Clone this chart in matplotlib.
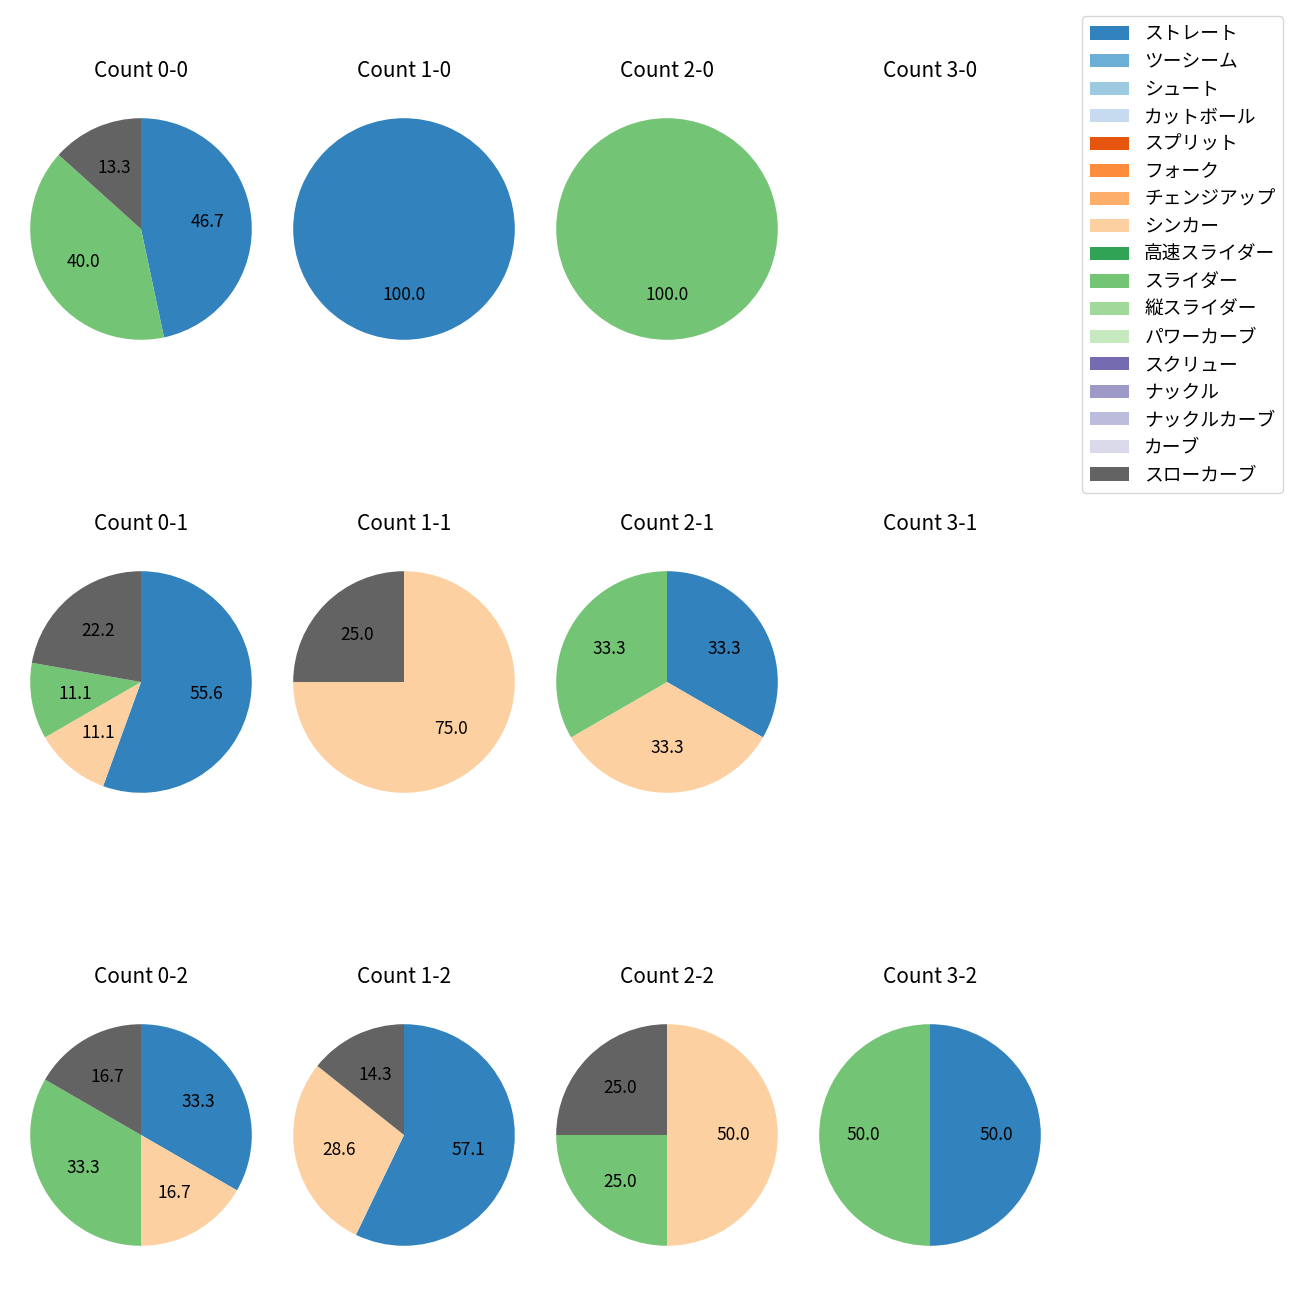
import matplotlib
matplotlib.use("Agg")
import matplotlib.pyplot as plt
from matplotlib.patches import Patch
import numpy as np

plt.rcParams["font.family"] = ["Noto Sans CJK JP", "DejaVu Sans"]
plt.rcParams["font.size"] = 12

# pitch types in legend order, coloured with tab20c
PITCH_TYPES = ["ストレート", "ツーシーム", "シュート", "カットボール", "スプリット",
               "フォーク", "チェンジアップ", "シンカー", "高速スライダー", "スライダー",
               "縦スライダー", "パワーカーブ", "スクリュー", "ナックル", "ナックルカーブ",
               "カーブ", "スローカーブ"]
COLORS = [plt.get_cmap("tab20c")(i) for i in range(len(PITCH_TYPES))]

# counts in grid order: strikes by row, balls by column
COUNT_LABELS = ["0-0", "1-0", "2-0", "3-0",
                "0-1", "1-1", "2-1", "3-1",
                "0-2", "1-2", "2-2", "3-2"]

# number of pitches per count for the types that were thrown
straight   = [7, 1, 0, 0, 5, 0, 1, 0, 2, 4, 0, 1]
sinker     = [0, 0, 0, 0, 1, 3, 1, 0, 1, 2, 2, 0]
slider     = [6, 0, 1, 0, 1, 0, 1, 0, 2, 0, 1, 1]
slow_curve = [2, 0, 0, 0, 2, 1, 0, 0, 1, 1, 1, 0]

thrown = {"ストレート": straight, "シンカー": sinker,
          "スライダー": slider, "スローカーブ": slow_curve}

fig = plt.figure(figsize=(13, 13), dpi=100)
W = H = 1300.0
box = 277.0
col_x = [141, 404, 667, 930]
row_y = [229, 682, 1135]

for k, label in enumerate(COUNT_LABELS):
    r, c = divmod(k, 4)
    cx, cy = col_x[c], row_y[r]
    ax = fig.add_axes([(cx - box / 2) / W, 1 - (cy + box / 2) / H, box / W, box / H])
    vals, cols = [], []
    for name, colr in zip(PITCH_TYPES, COLORS):
        if name in thrown and thrown[name][k] > 0:
            vals.append(thrown[name][k])
            cols.append(colr)
    if vals:
        ax.pie(vals, colors=cols, startangle=90, counterclock=False,
               autopct="%.1f", textprops={"fontsize": 12.5})
    else:
        ax.set_xlim(-1.25, 1.25)
        ax.set_ylim(-1.25, 1.25)
        ax.set_aspect("equal")
        ax.axis("off")
    ax.set_title(f"Count {label}", fontsize=15, pad=9.5)

handles = [Patch(facecolor=colr, label=name) for name, colr in zip(PITCH_TYPES, COLORS)]
fig.legend(handles=handles, loc="upper right", bbox_to_anchor=(1283 / W, 1 - 16 / H),
           borderaxespad=0, fontsize=13.5, labelspacing=0.35, handlelength=2.1)

fig.savefig("out.png", dpi=100)
